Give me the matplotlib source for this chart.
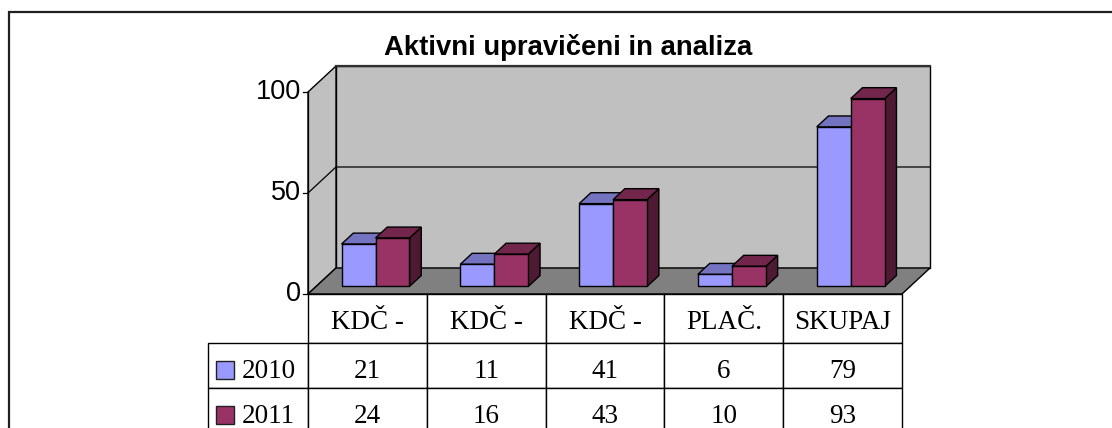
import matplotlib
matplotlib.use("Agg")
import matplotlib.pyplot as plt
from matplotlib.patches import Polygon, Rectangle
from matplotlib.table import Table
from matplotlib.transforms import Affine2D

# data
categories = ['KDČ -', 'KDČ -', 'KDČ -', 'PLAČ.', 'SKUPAJ']
series_names = ['2010', '2011']
values_2010 = [21, 11, 41, 6, 79]
values_2011 = [24, 16, 43, 10, 93]
y_ticks = [0, 50, 100]

colors = ['#9999FF', '#993366']
tops = ['#7373BF', '#73264C']
sides = ['#4D4D80', '#4D1933']

W, H = 1112, 428
fig = plt.figure(figsize=(W / 100, H / 100), dpi=100)
fig.patch.set_facecolor('white')

# front plane of the plot: x 308..902 px, y 294 (0) .. 92 (100)
x_left, x_right, y_zero, y_top = 308, 902, 294, 92
ax_w, ax_h = x_right - x_left, y_zero - y_top
ax = fig.add_axes([x_left / W, 1 - y_zero / H, ax_w / W, ax_h / H])
n = len(categories)
ax.set_xlim(0, n)
ax.set_ylim(0, 100)
ax.axis('off')

slot_px = ax_w / n
val_px = ax_h / 100
DX = 28 / slot_px      # depth offset in x units
DY = 26 / val_px       # depth offset in value units


def P(x, v, d):
    return (x + d * DX, v + d * DY)


def poly(pts, fc, z, lw=1.0, ec='black'):
    ax.add_patch(Polygon(pts, closed=True, facecolor=fc, edgecolor=ec,
                         linewidth=lw, zorder=z, clip_on=False, joinstyle='miter'))


# walls and floor
poly([P(0, 0, 1), P(n, 0, 1), P(n, 100, 1), P(0, 100, 1)], '#C0C0C0', 1)
poly([P(0, 0, 0), P(0, 0, 1), P(0, 100, 1), P(0, 100, 0)], '#C0C0C0', 1)
poly([P(0, 0, 0), P(n, 0, 0), P(n, 0, 1), P(0, 0, 1)], '#808080', 1.5)
ax.plot(*zip(P(0, 100, 1), P(n, 100, 1)), color='#303030', lw=1.6, zorder=1.2, clip_on=False)

# gridline and ticks
for t in y_ticks:
    if 0 < t < 100:
        pts = [P(0, t, 0), P(0, t, 1), P(n, t, 1)]
        ax.plot([p[0] for p in pts], [p[1] for p in pts], color='black', lw=0.9,
                zorder=1.3, clip_on=False)
    ax.plot([-5 / slot_px, 0], [t, t], color='black', lw=0.9, clip_on=False, zorder=2)
    ax.text(-7 / slot_px, t, str(t), ha='right', va='center', fontsize=19.5,
            family='Liberation Sans', clip_on=False)
ax.plot([0, 0], [0, 100], color='black', lw=0.9, zorder=1.4, clip_on=False)

# 3d bars
bar_w = 0.286
d0, d1 = 0.29, 0.71
for i in range(n):
    start = i + (1 - 2 * bar_w) / 2
    for j, vals in enumerate([values_2010, values_2011]):
        v = vals[i]
        xa = start + j * bar_w
        xb = xa + bar_w
        z = 3 + i * 0.1 + j * 0.01
        poly([P(xb, 0, d0), P(xb, 0, d1), P(xb, v, d1), P(xb, v, d0)], sides[j], z)
        poly([P(xa, v, d0), P(xb, v, d0), P(xb, v, d1), P(xa, v, d1)], tops[j], z)
        poly([P(xa, 0, d0), P(xb, 0, d0), P(xb, v, d0), P(xa, v, d0)], colors[j], z)

# data table under the chart (bbox covers the data columns only)
label_w, row_h = 100, [49, 45, 45]
tbl = Table(ax, bbox=[0, -sum(row_h) / ax_h, 1, sum(row_h) / ax_h])
for c, name in enumerate(categories):
    tbl.add_cell(0, c, 1 / n, row_h[0] / ax_h, text=name, loc='center')
for r, vals in enumerate([values_2010, values_2011], start=1):
    tbl.add_cell(r, -1, label_w / ax_w, row_h[r] / ax_h, text=series_names[r - 1], loc='left')
    for c, v in enumerate(vals):
        tbl.add_cell(r, c, 1 / n, row_h[r] / ax_h, text=str(v), loc='center')
tbl.auto_set_font_size(False)
tbl.set_fontsize(19.5)
for (r, c), cell in tbl.get_celld().items():
    cell.set_edgecolor('black')
    cell.set_linewidth(1.0)
    txt = cell.get_text()
    txt.set_fontfamily('Liberation Serif')
    # text sits a little below the cell middle in the original
    txt.set_transform(Affine2D().translate(0, -4 if r == 0 else -6))
    if c == -1:
        cell.PAD = 0.34
tbl.set_clip_on(False)
tbl.set_zorder(2)
ax.add_table(tbl)

# legend keys in the row-label cells
for j in range(len(series_names)):
    top_px = row_h[0] + sum(row_h[1:1 + j])
    cy = -(top_px + row_h[1 + j] / 2 + 4) / val_px
    ax.add_patch(Rectangle((-92 / slot_px, cy - 9 / val_px), 18 / slot_px, 18 / val_px,
                           facecolor=colors[j], edgecolor='#202020', lw=1.0,
                           clip_on=False, zorder=5))

# title and outer frame
fig.text(568 / W, 1 - 55 / H, 'Aktivni upravičeni in analiza', ha='center', va='baseline',
         fontsize=19.8, fontweight='bold', family='Liberation Sans')
fig.patches.append(Rectangle((8.5 / W, -0.1), 1.2, 1.1 - 12 / H, transform=fig.transFigure,
                             fill=False, edgecolor='#202020', lw=1.6))

fig.savefig('out.png', dpi=100)
